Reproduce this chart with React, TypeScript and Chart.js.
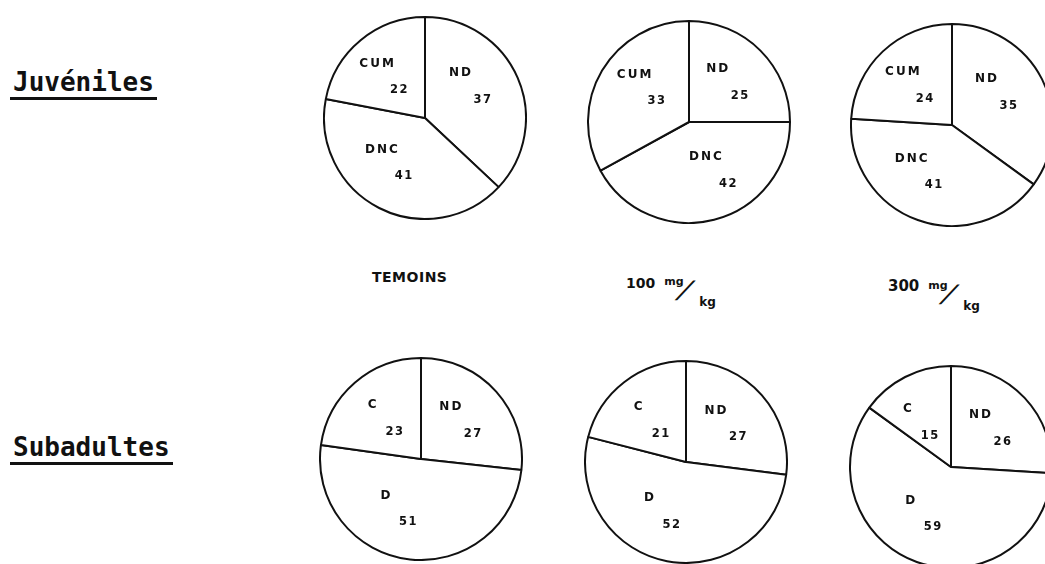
import React, { useEffect, useRef } from "react";
import { Chart, registerables } from "chart.js";

Chart.register(...registerables);

// ---------- data ----------
const ageGroups = ["Juvéniles", "Subadultes"];
const juvenileCategories = ["ND", "DNC", "CUM"];
const subadultCategories = ["ND", "D", "C"];

const juvenileTemoins = [37, 41, 22];
const juvenile100 = [25, 42, 33];
const juvenile300 = [35, 41, 24];

const subadultTemoins = [27, 51, 23];
const subadult100 = [27, 52, 21];
const subadult300 = [26, 59, 15];

const controlLabel = "TEMOINS";
const doseValues = ["100", "300"];
const doseUnitTop = "mg";
const doseUnitBottom = "kg";

// ---------- layout (positions only) ----------
const PIE_SIZE = 204; // canvas size -> radius 101 with border 2
const pieCenters = [
  [
    [425, 118],
    [689, 122],
    [952, 125],
  ],
  [
    [421, 459],
    [686, 462],
    [951, 467],
  ],
];

const INK = "#111";

const sliceLabelPlugin = {
  id: "sliceLabels",
  afterDatasetsDraw(chart: any) {
    const ctx = chart.ctx as CanvasRenderingContext2D;
    const meta = chart.getDatasetMeta(0);
    const labels = chart.data.labels as string[];
    const values = chart.data.datasets[0].data as number[];
    meta.data.forEach((arc: any, i: number) => {
      const p = arc.getProps(["x", "y", "startAngle", "endAngle", "outerRadius"], true);
      const mid = (p.startAngle + p.endAngle) / 2;
      // angle measured clockwise from 12 o'clock, pulled half-way toward the nearest diagonal
      const a = mid + Math.PI / 2;
      const q = Math.PI / 2;
      const diag = Math.round((a - Math.PI / 4) / q) * q + Math.PI / 4;
      const ang = (a + diag) / 2 - Math.PI / 2;
      const rr = p.outerRadius * 0.55;
      const ax = p.x + Math.cos(ang) * rr;
      const ay = p.y + Math.sin(ang) * rr;
      ctx.save();
      ctx.fillStyle = INK;
      ctx.textAlign = "center";
      ctx.textBaseline = "middle";
      ctx.font = "bold 12px 'DejaVu Sans'";
      (ctx as any).letterSpacing = "2px";
      ctx.fillText(labels[i], ax - 10, ay - 13.5);
      (ctx as any).letterSpacing = "1.5px";
      ctx.font = "bold 11.5px 'DejaVu Sans'";
      ctx.fillText(String(values[i]), ax + 12, ay + 13.5);
      ctx.restore();
    });
  },
};

function Pie({ labels, values, cx, cy }: { labels: string[]; values: number[]; cx: number; cy: number }) {
  const ref = useRef<HTMLCanvasElement>(null);
  useEffect(() => {
    if (!ref.current) return;
    const chart = new Chart(ref.current, {
      type: "pie",
      data: {
        labels,
        datasets: [
          {
            data: values,
            backgroundColor: "#ffffff",
            borderColor: INK,
            borderWidth: 2,
            hoverOffset: 0,
          },
        ],
      },
      options: {
        responsive: false,
        maintainAspectRatio: false,
        animation: false,
        devicePixelRatio: 1,
        events: [],
        layout: { padding: 0 },
        plugins: { legend: { display: false }, tooltip: { enabled: false } },
      },
      plugins: [sliceLabelPlugin],
    });
    return () => chart.destroy();
  }, [labels, values]);
  return (
    <canvas
      ref={ref}
      width={PIE_SIZE}
      height={PIE_SIZE}
      style={{ position: "absolute", left: cx - PIE_SIZE / 2, top: cy - PIE_SIZE / 2, width: PIE_SIZE, height: PIE_SIZE }}
    />
  );
}

function Txt({
  x,
  baseline,
  size,
  family = "'DejaVu Sans'",
  weight = 700,
  spacing = 0,
  children,
  style = {},
}: any) {
  const top = baseline - size * 0.846;
  return (
    <div
      style={{
        position: "absolute",
        left: x,
        top,
        fontSize: size,
        lineHeight: size + "px",
        fontFamily: family,
        fontWeight: weight,
        letterSpacing: spacing,
        whiteSpace: "nowrap",
        color: INK,
        ...style,
      }}
    >
      {children}
    </div>
  );
}

function Dose({ value, x, baseline, size }: { value: string; x: number; baseline: number; size: number }) {
  const numW = value.length * size * 0.696;
  const mgX = x + numW + 9;
  const slashX = mgX + 17;
  return (
    <>
      <Txt x={x} baseline={baseline} size={size}>
        {value}
      </Txt>
      <Txt x={mgX} baseline={baseline - 3} size={11}>
        {doseUnitTop}
      </Txt>
      <Txt
        x={slashX}
        baseline={baseline + 10}
        size={24}
        weight={700}
        style={{ transform: "skewX(-32deg)" }}
      >
        /
      </Txt>
      <Txt x={slashX + 18} baseline={baseline + 18} size={12}>
        {doseUnitBottom}
      </Txt>
    </>
  );
}

export default function App() {
  const rows = [
    { cats: juvenileCategories, sets: [juvenileTemoins, juvenile100, juvenile300] },
    { cats: subadultCategories, sets: [subadultTemoins, subadult100, subadult300] },
  ];
  const rowLabelBaselines = [91, 456];
  return (
    <div
      style={{
        position: "absolute",
        left: 0,
        top: 0,
        width: 1045,
        height: 564,
        overflow: "hidden",
        background: "#fff",
      }}
    >
      {rows.map((row, r) =>
        row.sets.map((vals, c) => (
          <Pie key={r + "-" + c} labels={row.cats} values={vals} cx={pieCenters[r][c][0]} cy={pieCenters[r][c][1]} />
        ))
      )}
      {ageGroups.map((g, i) => (
        <React.Fragment key={g}>
          <Txt x={13} baseline={rowLabelBaselines[i]} size={26} family="'DejaVu Sans Mono'">
            {g}
          </Txt>
          <div
            style={{
              position: "absolute",
              left: 10,
              top: rowLabelBaselines[i] + 6,
              width: g.length * 26 * 0.602 + 6,
              height: 3,
              background: INK,
            }}
          />
        </React.Fragment>
      ))}
      <Txt x={372} baseline={282} size={14} spacing={0.5}>
        {controlLabel}
      </Txt>
      <Dose value={doseValues[0]} x={626} baseline={288} size={14} />
      <Dose value={doseValues[1]} x={888} baseline={292} size={15} />
    </div>
  );
}
